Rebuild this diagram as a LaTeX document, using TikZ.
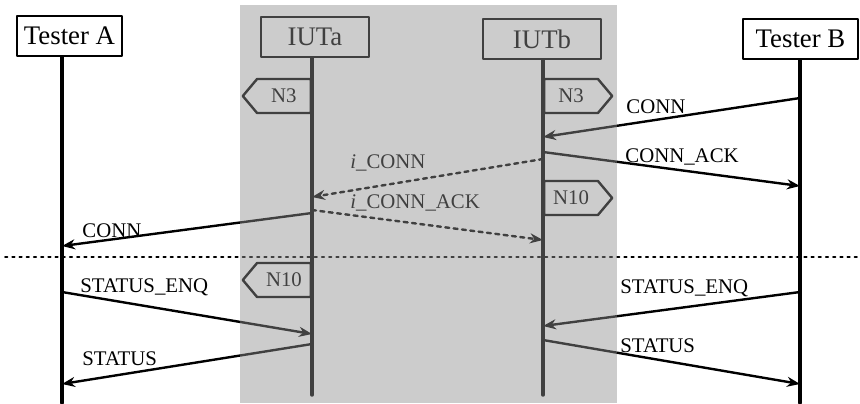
\documentclass[tikz,border=0pt]{standalone}
\usepackage{fontspec}
\setmainfont{Liberation Serif}
\usetikzlibrary{arrows.meta,shapes.symbols}

\definecolor{iutbg}{RGB}{142,142,142}

\tikzset{
  entity/.style={draw, line width=1.2pt, minimum height=20pt, inner xsep=3pt,
    font=\fontsize{13.4}{15}\selectfont},
  lifeline/.style={line width=1.7pt},
  msg/.style={line width=1.2pt, -{Stealth[length=6.5pt,width=5pt]}},
  imsg/.style={msg, dash pattern=on 2pt off 2.2pt},
  lbl/.style={font=\fontsize{10.4}{12}\selectfont, inner sep=0pt, anchor=base west},
  timer/.style={signal, draw, line width=1.2pt, signal pointer angle=100,
    minimum height=17pt, minimum width=34pt, inner sep=1pt,
    font=\fontsize{10.4}{12}\selectfont},
}

\begin{document}
\begin{tikzpicture}[x=0.5pt, y=-0.5pt, line cap=round, line join=round]
\useasboundingbox (0,0) rectangle (860,403);

% entities
\node[entity, minimum width=52.5pt] (ta)  at (69.5,36) {Tester A};
\node[entity, minimum width=54pt]   (iua) at (315,37)  {IUTa};
\node[entity, minimum width=59pt]   (iub) at (542,39)  {IUTb};
\node[entity, minimum width=57.5pt] (tb)  at (800.5,39) {Tester B};

\coordinate (la)  at (62,403);
\coordinate (lia) at (312,395);
\coordinate (lib) at (543,395);
\coordinate (lb)  at (800,403);

\draw[lifeline] (ta.south -| la)   -- (la);
\draw[lifeline] (iua.south -| lia) -- (lia);
\draw[lifeline] (iub.south -| lib) -- (lib);
\draw[lifeline] (tb.south -| lb)   -- (lb);

% timers
\node[timer, signal to=west, anchor=east] (n3a)  at (lia |- 0,96)  {N3};
\node[timer, signal to=east, anchor=west] (n3b)  at (lib |- 0,96)  {N3};
\node[timer, signal to=east, anchor=west] (n10b) at (lib |- 0,198) {N10};
\node[timer, signal to=west, anchor=east] (n10a) at (lia |- 0,280) {N10};

% connection phase
\draw[msg]  (lb |- 0,98)   -- (lib |- 0,137);
\node[lbl] (conn1) at (626,113) {CONN};
\draw[msg]  (lib |- 0,152) -- (lb |- 0,186);
\node[lbl] (ack1) at (625,162) {CONN\_ACK};
\draw[imsg] (lib |- 0,159) -- (lia |- 0,197);
\node[lbl] (iconn) at (350,168) {{\itshape i}\_CONN};
\draw[imsg] (lia |- 0,210) -- (lib |- 0,240);
\node[lbl] (iack) at (350,208) {{\itshape i}\_CONN\_ACK};
\draw[msg]  (lia |- 0,213) -- (la |- 0,246);
\node[lbl] (conn2) at (82,237) {CONN};

\coordinate (sepl) at (5,257);
\coordinate (sepr) at (860,257);
\draw[line width=0.9pt, dash pattern=on 1.2pt off 2.4pt] (sepl) -- (sepr);

% status phase
\draw[msg] (la |- 0,292)  -- (lia |- 0,334);
\node[lbl] (enqa) at (80,292) {STATUS\_ENQ};
\draw[msg] (lia |- 0,344) -- (la |- 0,384);
\node[lbl] (sta) at (82,365) {STATUS};
\draw[msg] (lb |- 0,292)  -- (lib |- 0,326);
\node[lbl] (enqb) at (620,293) {STATUS\_ENQ};
\draw[msg] (lib |- 0,340) -- (lb |- 0,384);
\node[lbl] (stb) at (620,352) {STATUS};

% shaded implementation area
\fill[iutbg, opacity=0.45] (240,5) rectangle (617,403);
\end{tikzpicture}
\end{document}
